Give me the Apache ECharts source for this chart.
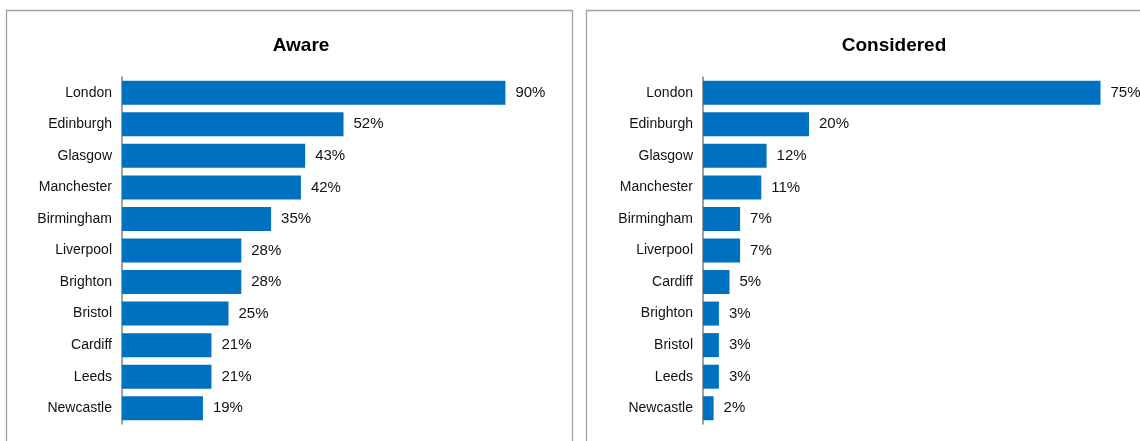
<!DOCTYPE html>
<html>
<head>
<meta charset="utf-8">
<script src="https://cdn.jsdelivr.net/npm/echarts@6/dist/echarts.min.js"></script>
<style>
  html, body { margin: 0; padding: 0; background: #fff; }
  #chart { width: 1140px; height: 441px; }
</style>
</head>
<body>
<div id="chart"></div>
<script>
// City awareness and consideration, share of respondents (%)
const awareCities = ['London', 'Edinburgh', 'Glasgow', 'Manchester', 'Birmingham', 'Liverpool', 'Brighton', 'Bristol', 'Cardiff', 'Leeds', 'Newcastle'];
const awareValues = [90, 52, 43, 42, 35, 28, 28, 25, 21, 21, 19];

const consideredCities = ['London', 'Edinburgh', 'Glasgow', 'Manchester', 'Birmingham', 'Liverpool', 'Cardiff', 'Brighton', 'Bristol', 'Leeds', 'Newcastle'];
const consideredValues = [75, 20, 12, 11, 7, 7, 5, 3, 3, 3, 2];

const panelTitles = ['Aware', 'Considered'];

const FONT = 'Arial, "Liberation Sans", sans-serif';
const BAR = '#0070C0';
const AXIS = '#808080';
const FRAME = '#a0a0a0';

const chart = echarts.init(document.getElementById('chart'), null, { renderer: 'canvas' });

function yAxisFor(cats, idx) {
  return {
    type: 'category',
    gridIndex: idx,
    data: cats,
    inverse: true,
    axisLine: { show: true, lineStyle: { color: AXIS, width: 1.5 } },
    axisTick: { show: false },
    axisLabel: { color: '#111', fontSize: 14, fontFamily: FONT, margin: 10 },
    splitLine: { show: false }
  };
}

function xAxisFor(max, idx) {
  return { type: 'value', gridIndex: idx, min: 0, max: max, show: false, splitLine: { show: false } };
}

function seriesFor(vals, idx) {
  return {
    type: 'bar',
    xAxisIndex: idx,
    yAxisIndex: idx,
    data: vals,
    barWidth: 24,
    itemStyle: { color: BAR },
    label: {
      show: true,
      position: 'right',
      distance: 10,
      formatter: '{c}%',
      color: '#111',
      fontSize: 15,
      fontFamily: FONT
    },
    animation: false
  };
}

chart.setOption({
  animation: false,
  grid: [
    { left: 122, top: 77, width: 426, height: 347 },
    { left: 703, top: 77, width: 424, height: 347 }
  ],
  xAxis: [xAxisFor(100, 0), xAxisFor(80, 1)],
  yAxis: [yAxisFor(awareCities, 0), yAxisFor(consideredCities, 1)],
  series: [seriesFor(awareValues, 0), seriesFor(consideredValues, 1)],
  graphic: [
    {
      type: 'rect', silent: true, z: -1,
      shape: { x: 6.5, y: 10.5, width: 566, height: 500 },
      style: { fill: 'none', stroke: FRAME, lineWidth: 1.3 }
    },
    {
      type: 'rect', silent: true, z: -1,
      shape: { x: 586.5, y: 10.5, width: 620, height: 500 },
      style: { fill: 'none', stroke: FRAME, lineWidth: 1.3 }
    },
    {
      type: 'text', x: 301, y: 46,
      style: { text: panelTitles[0], fill: '#000', font: 'bold 19px ' + FONT, textAlign: 'center', textVerticalAlign: 'middle' }
    },
    {
      type: 'text', x: 894, y: 46,
      style: { text: panelTitles[1], fill: '#000', font: 'bold 19px ' + FONT, textAlign: 'center', textVerticalAlign: 'middle' }
    }
  ]
});
</script>
</body>
</html>
